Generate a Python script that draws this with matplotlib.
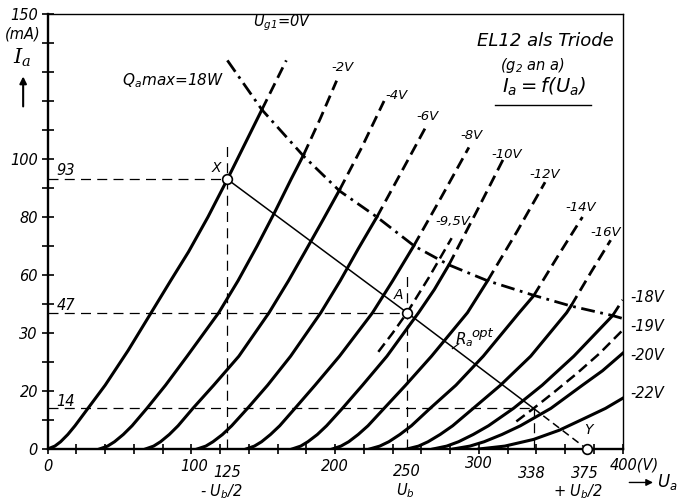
import matplotlib.pyplot as plt

plt.rcParams['font.family'] = 'DejaVu Sans'
plt.rcParams['font.style'] = 'italic'
plt.rcParams['mathtext.fontset'] = 'dejavusans'
plt.rcParams['mathtext.default'] = 'it'

# Ia = f(Ua) per grid voltage (Ua in V, Ia in mA)
# the first n points are solid (below Qa max), the rest is the dashed continuation
ua_0 = [0, 5, 9, 14, 19, 28, 40, 56, 72, 85.5, 98, 111.5, 125, 137, 149, 166]
ia_0 = [0, 1, 2.5, 5, 8, 14, 22, 34, 47, 58, 68, 80, 93, 105, 117, 134]
ua_2 = [36, 41.7, 46.5, 52.6, 58.7, 69, 82, 97, 119, 132.4, 145.7, 158.3, 169.3, 178, 189.7, 201]
ia_2 = [0, 1, 2.5, 5, 8, 14, 22, 32, 47, 58, 70, 82, 93, 101.4, 114, 127]
ua_4 = [68, 73.7, 78.5, 84.6, 90.7, 101, 115.5, 133, 154, 167.5, 179, 191.5, 203, 218.5, 234]
ia_4 = [0, 1, 2.5, 5, 8, 14, 22, 32, 47, 58, 68, 79, 89.3, 104, 120]
ua_6 = [104, 110, 115, 121.6, 128, 139, 153, 169, 190, 203.5, 216, 229, 245.5, 263]
ia_6 = [0, 1, 2.5, 5, 8, 14, 22, 32, 47, 58, 69, 80, 95, 111]
ua_8 = [138, 143.8, 148.8, 155, 161.4, 172, 186, 203, 226, 240, 254.6, 274, 293]
ia_8 = [0, 1, 2.5, 5, 8, 14, 22, 32, 47, 58, 70, 87, 104]
ua_10 = [170, 176, 181, 187.6, 194, 205, 219, 236, 258, 269, 279, 298.5, 317]
ia_10 = [0, 1, 2.5, 5, 8, 14, 22, 32, 47, 55, 63.4, 82, 100]
ua_12 = [198, 204, 209.4, 216, 222.8, 234, 249, 267, 292, 306, 326.5, 346]
ia_12 = [0, 1, 2.5, 5, 8, 14, 22, 32, 47, 58, 75, 92]
ua_14 = [224, 231, 237.3, 245, 253, 266, 284, 303, 328, 338, 355.5, 372]
ia_14 = [0, 1, 2.5, 5, 8, 14, 22, 32, 47, 52.8, 67, 80]
ua_16 = [250, 258, 264.6, 273, 281.7, 296, 315, 336, 361, 364, 378, 391.6]
ia_16 = [0, 1, 2.5, 5, 8, 14, 22, 32, 47, 49.3, 61, 72]
ua_18 = [268, 277.6, 285.8, 296, 306.6, 324, 344, 366, 393, 400]
ia_18 = [0, 1, 2.5, 5, 8, 14, 22, 32, 46, 51.4]
ua_20 = [282, 293.7, 303.6, 316, 328.8, 350, 372, 386, 400]
ia_20 = [0, 1, 2.5, 5, 8, 14, 22, 27, 33]
ua_22 = [300, 318, 338, 356, 374, 388, 400]
ia_22 = [0, 1, 3.3, 6.5, 10.7, 14, 17.5]
n_solid = [15, 14, 13, 12, 11, 11, 10, 10, 10, 9, 9, 7]

# only drawn dashed
ua_95 = [230, 240, 250, 265, 281]
ia_95 = [33.5, 40, 47, 59, 72.7]
ua_19 = [326, 338, 352, 368, 384, 400]
ia_19 = [9.5, 14, 19.5, 26, 33, 41]

# Qa max = 18 W
ua_q = [125, 149, 178, 203, 229, 255, 279, 306, 338, 364, 393, 400]
ia_q = [134, 117, 101, 89, 80, 70, 63.5, 58, 53, 49.3, 46, 45]

# working line X - A - Y
load_u = [125, 250, 338]
load_i = [93, 47, 14]
y_u, y_i = 375, 0

fig = plt.figure(figsize=(6.81, 5.01), dpi=100)
ax = fig.add_axes([0.0700, 0.1038, 0.8444, 0.8683])
ax.set_xlim(0, 400)
ax.set_ylim(0, 150)

curves = [(ua_0, ia_0), (ua_2, ia_2), (ua_4, ia_4), (ua_6, ia_6), (ua_8, ia_8),
          (ua_10, ia_10), (ua_12, ia_12), (ua_14, ia_14), (ua_16, ia_16),
          (ua_18, ia_18), (ua_20, ia_20), (ua_22, ia_22)]
dash = (0, (4.2, 2.2))
for (u, i), n in zip(curves, n_solid):
    ax.plot(u[:n], i[:n], color='k', lw=2.2, solid_joinstyle='round')
    if n < len(u):
        ax.plot(u[n - 1:], i[n - 1:], color='k', lw=2.0, ls=dash)
ax.plot(ua_95, ia_95, color='k', lw=1.8, ls=dash)
ax.plot(ua_19, ia_19, color='k', lw=1.8, ls=dash)

ax.plot(ua_q, ia_q, color='k', lw=2.0, ls=(0, (5, 2, 1, 2)))

# helper lines
thin = dict(color='k', lw=0.9, ls=(0, (8, 5)))
ax.plot([0, 125], [93, 93], **thin)
ax.plot([125, 125], [0, 106], **thin)
ax.plot([0, 250], [47, 47], **thin)
ax.plot([250, 250], [0, 61], **thin)
ax.plot([0, 338], [14, 14], **thin)
ax.plot([338, 338], [0, 14], **thin)

ax.plot(load_u, load_i, color='k', lw=1.1)
ax.plot([load_u[-1], y_u], [load_i[-1], y_i], color='k', lw=1.1, ls=(0, (5, 3)))
ax.plot([load_u[0], load_u[1], y_u], [load_i[0], load_i[1], y_i], ls='none',
        marker='o', ms=7, mfc='white', mec='k', mew=1.2, clip_on=False, zorder=5)
ax.plot([281.5, 286], [34.6, 36.3], color='k', lw=0.8)

# axes frame and ticks
for s in ['left', 'bottom']:
    ax.spines[s].set_linewidth(1.7)
for s in ['top', 'right']:
    ax.spines[s].set_linewidth(1.0)
ax.set_xticks(range(0, 401, 20))
ax.set_xticklabels([])
yt = list(range(0, 151, 10))
ylab = {0: '0', 20: '20', 40: '30', 60: '60', 80: '80', 100: '100', 150: '150'}
ax.set_yticks(yt)
ax.set_yticklabels([ylab.get(v, '') for v in yt], fontsize=10.5, style='italic')
ax.tick_params(direction='inout', length=8, width=1.2, pad=3)
ax.tick_params(axis='x', length=7)

tk = dict(fontsize=10.5, ha='center', va='center', clip_on=False)
ax.text(0, -6, '0', **tk)
ax.text(102, -6, '100', **tk)
ax.text(125, -8, '125', **tk)
ax.text(121, -14.6, '- U$_b$/2', **tk)
ax.text(200, -6, '200', **tk)
ax.text(250, -7.8, '250', **tk)
ax.text(249, -14.3, 'U$_b$', **tk)
ax.text(300, -5, '300', **tk)
ax.text(337, -8.5, '338', **tk)
ax.text(374, -8.5, '375', **tk)
ax.text(369, -14.6, '+ U$_b$/2', **tk)
ax.text(408, -5.5, '400(V)', **tk)
ax.annotate('', xy=(0.963, 0.037), xytext=(0.920, 0.037), xycoords='figure fraction',
            arrowprops=dict(arrowstyle='-|>', color='k', lw=1.0, mutation_scale=10))
fig.text(0.980, 0.037, 'U$_a$', fontsize=12, ha='center', va='center')

fig.text(0.034, 0.932, '(mA)', fontsize=10.5, ha='center', va='center')
fig.text(0.033, 0.885, '$I_a$', fontsize=15, ha='center', va='center', math_fontfamily='dejavuserif')
ax.annotate('', xy=(0.034, 0.853), xytext=(0.034, 0.782), xycoords='figure fraction',
            arrowprops=dict(arrowstyle='-|>', color='k', lw=1.5, mutation_scale=10))

ax.text(6, 96, '93', fontsize=10.5, va='center')
ax.text(6, 49.5, '47', fontsize=10.5, va='center')
ax.text(6, 16.5, '14', fontsize=10.5, va='center')
ax.text(117, 97, 'X', fontsize=10, ha='center', va='center')
ax.text(244, 53, 'A', fontsize=10, ha='center', va='center')
ax.text(376, 6.6, 'Y', fontsize=10, ha='center', va='center')
ax.text(283.6, 37.6, 'R$_a$', fontsize=11, ha='left', va='center')
ax.text(294.8, 39.7, 'opt', fontsize=9.5, ha='left', va='center')

lab = dict(fontsize=9.5, ha='center', va='center')
ax.text(163, 147, 'U$_{g1}$=0V', fontsize=10.5, ha='center', va='center')
ax.text(205, 131.4, '-2V', **lab)
ax.text(243, 122, '-4V', **lab)
ax.text(264, 114.5, '-6V', **lab)
ax.text(295, 108, '-8V', **lab)
ax.text(319, 101.7, '-10V', **lab)
ax.text(346, 94.8, '-12V', **lab)
ax.text(371, 83.4, '-14V', **lab)
ax.text(388, 74.5, '-16V', **lab)
ax.text(282, 78.6, '-9,5V', **lab)
rl = dict(fontsize=10.5, ha='left', va='center', clip_on=False)
ax.text(405, 52.1, '-18V', **rl)
ax.text(405, 42.1, '-19V', **rl)
ax.text(405, 32.4, '-20V', **rl)
ax.text(405, 19.3, '-22V', **rl)

ax.text(123, 127, 'Q$_a$max=18W', fontsize=11, ha='right', va='center')

ax.text(346, 140.7, 'EL12 als Triode', fontsize=13, ha='center', va='center')
ax.text(337, 132.4, '(g$_2$ an a)', fontsize=10.5, ha='center', va='center')
ax.text(345, 124.8, '$I_a = f(U_a)$', fontsize=14, ha='center', va='center')
ax.plot([311, 378], [118.5, 118.5], color='k', lw=1.0)

fig.savefig('out.png', dpi=100)
